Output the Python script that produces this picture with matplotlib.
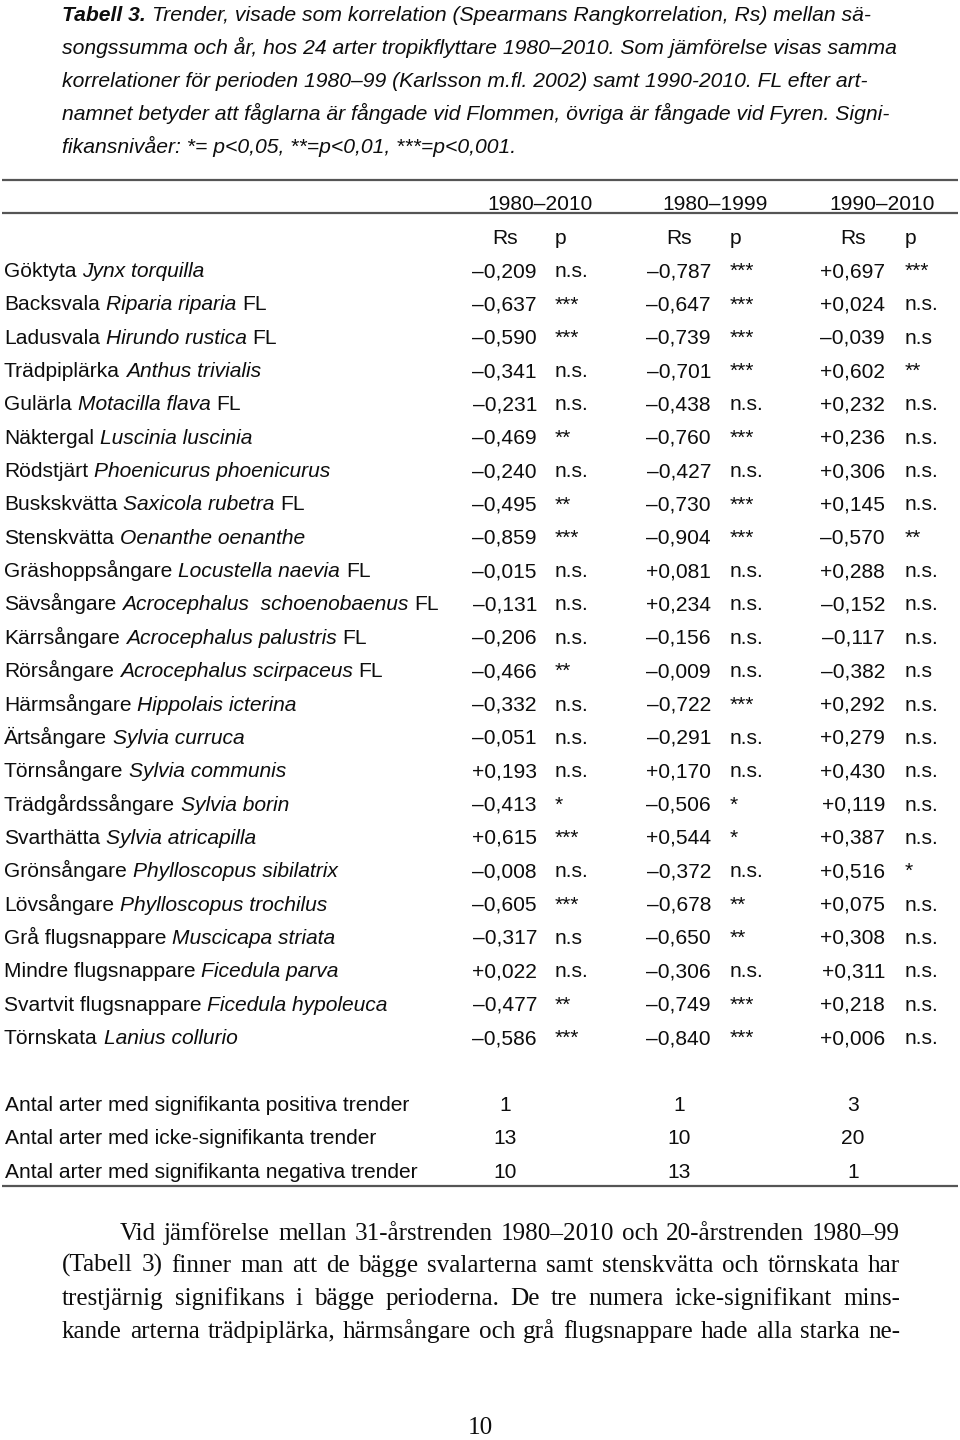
import matplotlib
matplotlib.use("Agg")
import matplotlib.pyplot as plt
from matplotlib import font_manager

# ---------------- data ----------------
caption_lines = [
    "Trender, visade som korrelation (Spearmans Rangkorrelation, Rs) mellan sä-",
    "songssumma och år, hos 24 arter tropikflyttare 1980–2010. Som jämförelse visas samma",
    "korrelationer för perioden 1980–99 (Karlsson m.fl. 2002) samt 1990-2010. FL efter art-",
    "namnet betyder att fåglarna är fångade vid Flommen, övriga är fångade vid Fyren. Signi-",
    "fikansnivåer: *= p<0,05, **=p<0,01, ***=p<0,001.",
]
caption_label = "Tabell 3."

periods = ["1980–2010", "1980–1999", "1990–2010"]
subheads = ["Rs", "p"]

common_names = ["Göktyta", "Backsvala", "Ladusvala", "Trädpiplärka", "Gulärla", "Näktergal",
                "Rödstjärt", "Buskskvätta", "Stenskvätta", "Gräshoppsångare", "Sävsångare",
                "Kärrsångare", "Rörsångare", "Härmsångare", "Ärtsångare", "Törnsångare",
                "Trädgårdssångare", "Svarthätta", "Grönsångare", "Lövsångare", "Grå flugsnappare",
                "Mindre flugsnappare", "Svartvit flugsnappare", "Törnskata"]
latin_names = ["Jynx torquilla", "Riparia riparia", "Hirundo rustica", "Anthus trivialis",
               "Motacilla flava", "Luscinia luscinia", "Phoenicurus phoenicurus", "Saxicola rubetra",
               "Oenanthe oenanthe", "Locustella naevia", "Acrocephalus  schoenobaenus",
               "Acrocephalus palustris", "Acrocephalus scirpaceus", "Hippolais icterina",
               "Sylvia curruca", "Sylvia communis", "Sylvia borin", "Sylvia atricapilla",
               "Phylloscopus sibilatrix", "Phylloscopus trochilus", "Muscicapa striata",
               "Ficedula parva", "Ficedula hypoleuca", "Lanius collurio"]
site_flags = ["", "FL", "FL", "", "FL", "", "", "FL", "", "FL", "FL", "FL", "FL", "",
              "", "", "", "", "", "", "", "", "", ""]

rs_1980_2010 = ["–0,209", "–0,637", "–0,590", "–0,341", "–0,231", "–0,469", "–0,240", "–0,495",
                "–0,859", "–0,015", "–0,131", "–0,206", "–0,466", "–0,332", "–0,051", "+0,193",
                "–0,413", "+0,615", "–0,008", "–0,605", "–0,317", "+0,022", "–0,477", "–0,586"]
p_1980_2010 = ["n.s.", "***", "***", "n.s.", "n.s.", "**", "n.s.", "**", "***", "n.s.", "n.s.",
               "n.s.", "**", "n.s.", "n.s.", "n.s.", "*", "***", "n.s.", "***", "n.s", "n.s.",
               "**", "***"]
rs_1980_1999 = ["–0,787", "–0,647", "–0,739", "–0,701", "–0,438", "–0,760", "–0,427", "–0,730",
                "–0,904", "+0,081", "+0,234", "–0,156", "–0,009", "–0,722", "–0,291", "+0,170",
                "–0,506", "+0,544", "–0,372", "–0,678", "–0,650", "–0,306", "–0,749", "–0,840"]
p_1980_1999 = ["***", "***", "***", "***", "n.s.", "***", "n.s.", "***", "***", "n.s.", "n.s.",
               "n.s.", "n.s.", "***", "n.s.", "n.s.", "*", "*", "n.s.", "**", "**", "n.s.",
               "***", "***"]
rs_1990_2010 = ["+0,697", "+0,024", "–0,039", "+0,602", "+0,232", "+0,236", "+0,306", "+0,145",
                "–0,570", "+0,288", "–0,152", "–0,117", "–0,382", "+0,292", "+0,279", "+0,430",
                "+0,119", "+0,387", "+0,516", "+0,075", "+0,308", "+0,311", "+0,218", "+0,006"]
p_1990_2010 = ["***", "n.s.", "n.s", "**", "n.s.", "n.s.", "n.s.", "n.s.", "**", "n.s.", "n.s.",
               "n.s.", "n.s", "n.s.", "n.s.", "n.s.", "n.s.", "n.s.", "*", "n.s.", "n.s.", "n.s.",
               "n.s.", "n.s."]

summary_labels = ["Antal arter med signifikanta positiva trender",
                  "Antal arter med icke-signifikanta trender",
                  "Antal arter med signifikanta negativa trender"]
summary_1980_2010 = [1, 13, 10]
summary_1980_1999 = [1, 10, 13]
summary_1990_2010 = [3, 20, 1]

body_lines = [
    "Vid jämförelse mellan 31-årstrenden 1980–2010 och 20-årstrenden 1980–99",
    "(Tabell 3) finner man att de bägge svalarterna samt stenskvätta och törnskata har",
    "trestjärnig signifikans i bägge perioderna. De tre numera icke-signifikant mins-",
    "kande arterna trädpiplärka, härmsångare och grå flugsnappare hade alla starka ne-",
]
page_number = "10"

# ---------------- setup ----------------
W, H = 960, 1440
fig = plt.figure(figsize=(9.6, 14.4), dpi=100)
fig.patch.set_facecolor("white")
ax = fig.add_axes([0, 0, 1, 1])
ax.set_xlim(0, W)
ax.set_ylim(H, 0)
ax.axis("off")
rend = fig.canvas.get_renderer()

names = {f.name for f in font_manager.fontManager.ttflist}
SANS = ["Liberation Sans", "DejaVu Sans"]
NARROW = (["Liberation Sans Narrow"] if "Liberation Sans Narrow" in names else []) + SANS
SERIF = ["Liberation Serif", "DejaVu Serif"]
INK = "#0d0d0d"


def measure(s, **kw):
    t = ax.text(0, 0, s, **kw)
    w = t.get_window_extent(rend).width
    t.remove()
    return w


def fit_size(s, target, family, base=14, **kw):
    w = measure(s, fontsize=base, family=family, **kw)
    return base * target / w


def put_runs(x, y, runs, size, family):
    """runs: list of (text, style, weight); spaces between runs measured separately."""
    sp = measure("x x", fontsize=size, family=family) - measure("xx", fontsize=size, family=family)
    for i, (s, style, weight) in enumerate(runs):
        if not s:
            continue
        if i > 0:
            x += sp
        t = ax.text(x, y, s, fontsize=size, family=family, style=style, weight=weight,
                    va="baseline", ha="left", color=INK)
        x += t.get_window_extent(rend).width


# ---------------- caption ----------------
cap_size = fit_size(caption_lines[1], 838, NARROW, style="italic")
cap_base = [21, 54, 87, 120, 153]
for i, line in enumerate(caption_lines):
    runs = [(line, "italic", "normal")]
    if i == 0:
        runs = [(caption_label, "italic", "bold")] + runs
    put_runs(62, cap_base[i], runs, cap_size, NARROW)

# ---------------- table ----------------
tsize = fit_size(summary_labels[2], 415, SANS)

ax.hlines([180, 213], 2, 958, color="#555555", lw=1.6)
ax.hlines([1186], 2, 958, color="#555555", lw=1.6)

rs_right = [537, 711, 885]
p_left = [555, 730, 905]
period_center = [540, 715, 882]
for c in range(3):
    ax.text(period_center[c], 210, periods[c], fontsize=tsize, family=SANS, ha="center",
            va="baseline", color=INK)
    ax.text(rs_right[c] - 32, 244, subheads[0], fontsize=tsize, family=SANS, ha="center",
            va="baseline", color=INK)
    ax.text(p_left[c], 244, subheads[1], fontsize=tsize, family=SANS, ha="left",
            va="baseline", color=INK)

rs_cols = [rs_1980_2010, rs_1980_1999, rs_1990_2010]
p_cols = [p_1980_2010, p_1980_1999, p_1990_2010]
row0, dy = 270, 33.35
for i in range(len(common_names)):
    yb = row0 + i * dy + 7
    put_runs(4, yb, [(common_names[i], "normal", "normal"),
                     (latin_names[i], "italic", "normal"),
                     (site_flags[i], "normal", "normal")], tsize, SANS)
    for c in range(3):
        ax.text(rs_right[c], yb, rs_cols[c][i], fontsize=tsize, family=SANS, ha="right",
                va="baseline", color=INK)
        ax.text(p_left[c], yb, p_cols[c][i], fontsize=tsize, family=SANS, ha="left",
                va="baseline", color=INK)

sum_cols = [summary_1980_2010, summary_1980_1999, summary_1990_2010]
sum_center = [505, 679, 853]
sum_base = [1111, 1144, 1178]
for i, lab in enumerate(summary_labels):
    ax.text(5, sum_base[i], lab, fontsize=tsize, family=SANS, ha="left", va="baseline", color=INK)
    for c in range(3):
        ax.text(sum_center[c], sum_base[i], str(sum_cols[c][i]), fontsize=tsize, family=SANS,
                ha="center", va="baseline", color=INK)

# ---------------- body paragraph (justified) ----------------
starts = [120, 62, 62, 62]
right_edge = 900
bsize = min(fit_size(line, right_edge - x0 - 6, SERIF) for line, x0 in zip(body_lines, starts))
body_base = [1240, 1272, 1305, 1338]
for i, line in enumerate(body_lines):
    x0 = starts[i]
    words = line.split(" ")
    ws = [measure(w, fontsize=bsize, family=SERIF) for w in words]
    gap = (right_edge - x0 - sum(ws)) / (len(words) - 1)
    x = x0
    for w, wd in zip(words, ws):
        ax.text(x, body_base[i], w, fontsize=bsize, family=SERIF, ha="left", va="baseline",
                color=INK)
        x += wd + gap

ax.text(480, 1434, page_number, fontsize=bsize, family=SERIF, ha="center", va="baseline",
        color=INK)

fig.savefig("out.png", dpi=100, facecolor="white")
